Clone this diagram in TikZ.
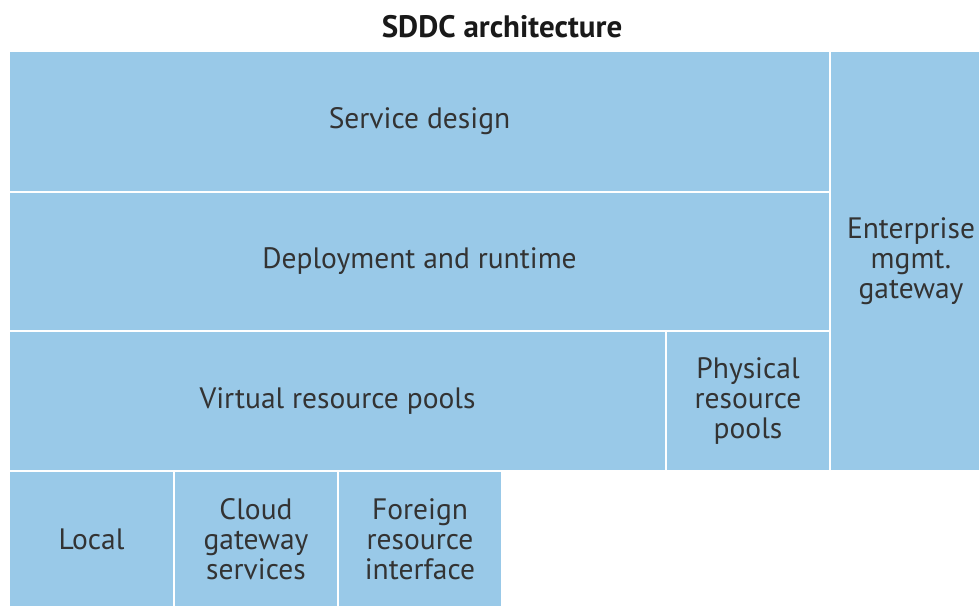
\documentclass[tikz,border=0pt]{standalone}
\usepackage{fontspec}
\setmainfont{PT Sans}
\definecolor{boxblue}{HTML}{99C9E8}
\definecolor{txt}{HTML}{333333}
\begin{document}
\begin{tikzpicture}[x=1pt,y=-1pt,
  cell/.style={draw=white,line width=2pt,fill=boxblue,text=txt,align=center,
    font=\fontsize{29.5}{30}\selectfont,inner sep=0pt}]
\useasboundingbox (0,0) rectangle (979,605);
\begin{scope}
\clip (0,0) rectangle (979,605);
\node[cell,minimum width=821pt,minimum height=141pt] (service) at (419.5,121.5) {Service design};
\node[cell,minimum width=821pt,minimum height=139pt] (deploy) at (419.5,261.5) {Deployment and runtime};
\node[cell,minimum width=657pt,minimum height=140pt] (virtual) at (337.5,401) {Virtual resource pools};
\node[cell,minimum width=164pt,minimum height=140pt] (physical) at (748,401) {Physical\\resource\\pools};
\node[cell,minimum width=162pt,minimum height=420pt] (enterprise) at (911,261) {Enterprise\\mgmt.\\gateway};
\node[cell,minimum width=165pt,minimum height=136pt] (local) at (91.5,539) {Local};
\node[cell,minimum width=164pt,minimum height=136pt] (cloud) at (256,539) {Cloud\\gateway\\services};
\node[cell,minimum width=164pt,minimum height=136pt] (foreign) at (420,539) {Foreign\\resource\\interface};
\end{scope}
\node[text=black!90,font=\fontsize{31}{36}\selectfont\bfseries,inner sep=0pt] (title) at (502,27) {SDDC architecture};
\end{tikzpicture}
\end{document}
